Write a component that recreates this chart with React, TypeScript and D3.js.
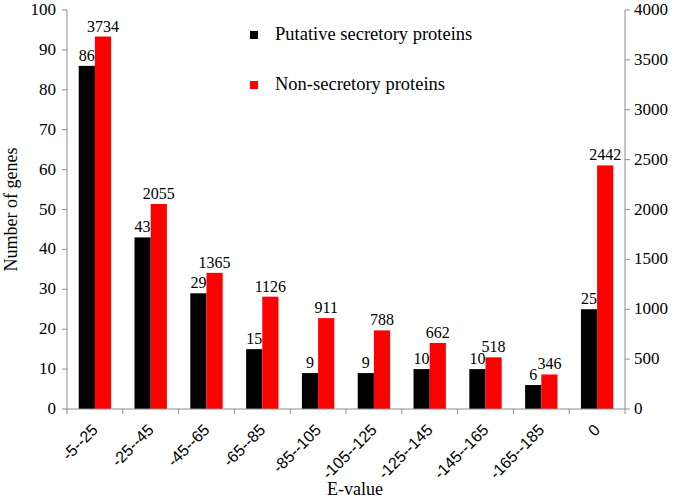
import React from "react";
import * as d3 from "d3";

const categories = ["-5--25", "-25--45", "-45--65", "-65--85", "-85--105", "-105--125", "-125--145", "-145--165", "-165--185", "0"];
const secretory = [86, 43, 29, 15, 9, 9, 10, 10, 6, 25];
const nonSecretory = [3734, 2055, 1365, 1126, 911, 788, 662, 518, 346, 2442];
const leftTicks = [0, 10, 20, 30, 40, 50, 60, 70, 80, 90, 100];
const rightTicks = [0, 500, 1000, 1500, 2000, 2500, 3000, 3500, 4000];

const serif: React.CSSProperties = { fontFamily: "Liberation Serif" };
const sans: React.CSSProperties = { fontFamily: "Liberation Sans" };

export default function App() {
  const W = 675, H = 501;
  const left = 67, right = 625, top = 10, bottom = 409;
  const axisColor = "#8c8c8c";

  const x = d3.scaleBand<string>().domain(categories).range([left, right]).paddingInner(0.42).paddingOuter(0.21);
  const yL = d3.scaleLinear().domain([0, 100]).range([bottom, top]);
  const yR = d3.scaleLinear().domain([0, 4000]).range([bottom, top]);
  const bw = x.bandwidth() / 2;
  const step = (right - left) / categories.length;

  return (
    <svg width={W} height={H} style={{ position: "absolute", left: 0, top: 0, background: "#fff" }}>
      {categories.map((c, i) => (
        <g key={c}>
          <rect x={x(c)!} y={yL(secretory[i])} width={bw} height={bottom - yL(secretory[i])} fill="#000" />
          <rect x={x(c)! + bw} y={yR(nonSecretory[i])} width={bw} height={bottom - yR(nonSecretory[i])} fill="#ff0000" />
          <text style={serif} x={x(c)! + bw / 2} y={yL(secretory[i]) - 5} textAnchor="middle" fontSize={16}>{secretory[i]}</text>
          <text style={serif} x={x(c)! + bw * 1.5} y={yR(nonSecretory[i]) - 5} textAnchor="middle" fontSize={16}>{nonSecretory[i]}</text>
        </g>
      ))}
      <line x1={left} x2={left} y1={top} y2={bottom} stroke={axisColor} />
      {leftTicks.map((t) => (
        <g key={"l" + t}>
          <line x1={left - 5} x2={left} y1={yL(t)} y2={yL(t)} stroke={axisColor} />
          <text style={serif} x={left - 11} y={yL(t) + 5} textAnchor="end" fontSize={17}>{t}</text>
        </g>
      ))}
      <line x1={right} x2={right} y1={top} y2={bottom} stroke={axisColor} />
      {rightTicks.map((t) => (
        <g key={"r" + t}>
          <line x1={right} x2={right + 5} y1={yR(t)} y2={yR(t)} stroke={axisColor} />
          <text style={serif} x={right + 9} y={yR(t) + 5} textAnchor="start" fontSize={17}>{t}</text>
        </g>
      ))}
      <line x1={left} x2={right} y1={bottom} y2={bottom} stroke={axisColor} />
      {d3.range(categories.length + 1).map((i) => (
        <line key={"xt" + i} x1={left + i * step} x2={left + i * step} y1={bottom} y2={bottom + 5} stroke={axisColor} />
      ))}
      {categories.map((c) => {
        const cx = x(c)! + x.bandwidth() / 2 + 4;
        const cy = bottom + 22;
        return (
          <text key={"xl" + c} style={sans} transform={`translate(${cx},${cy}) rotate(-45)`} textAnchor="end" fontSize={16}>{c}</text>
        );
      })}
      <text style={serif} x={355} y={495} textAnchor="middle" fontSize={18}>E-value</text>
      <text style={serif} transform={`translate(17,${(top + bottom) / 2}) rotate(-90)`} textAnchor="middle" fontSize={18}>Number of genes</text>
      <rect x={250} y={31} width={8} height={8} fill="#000" />
      <text style={serif} x={275} y={40} fontSize={18.5}>Putative secretory proteins</text>
      <rect x={250} y={81} width={8} height={8} fill="#ff0000" />
      <text style={serif} x={275} y={90} fontSize={18.5}>Non-secretory proteins</text>
    </svg>
  );
}
